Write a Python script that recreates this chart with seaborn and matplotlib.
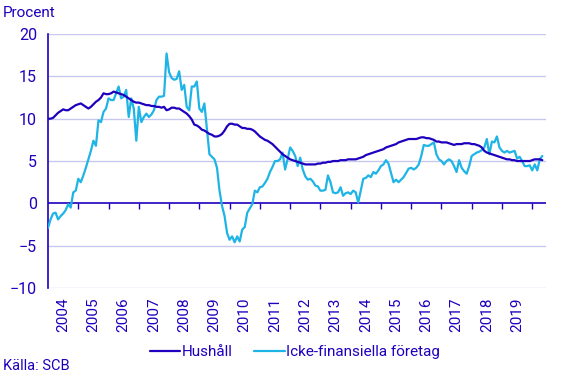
import numpy as np
import pandas as pd
import matplotlib
matplotlib.use("Agg")
import matplotlib.pyplot as plt
import seaborn as sns

# Data: monthly values, Jan 2004 - May 2020 (Procent)
hushall = [
    10.0, 10.0, 10.1, 10.4, 10.7, 10.9, 11.1, 11.0, 11.0, 11.2, 11.4, 11.6,  # 2004
    11.7, 11.8, 11.6, 11.4, 11.2, 11.4, 11.7, 12.0, 12.2, 12.5, 13.0, 12.9,  # 2005
    12.9, 13.0, 13.2, 13.1, 13.0, 12.9, 12.8, 12.6, 12.4, 12.2, 12.0, 11.9,  # 2006
    11.9, 11.8, 11.7, 11.6, 11.6, 11.5, 11.5, 11.4, 11.4, 11.3, 11.4, 11.0,  # 2007
    11.1, 11.3, 11.3, 11.2, 11.2, 11.0, 10.8, 10.6, 10.3, 9.9, 9.3, 9.2,     # 2008
    9.0, 8.7, 8.6, 8.4, 8.2, 8.1, 7.9, 7.9, 8.0, 8.2, 8.6, 9.1,              # 2009
    9.4, 9.4, 9.3, 9.3, 9.1, 8.9, 8.9, 8.8, 8.8, 8.7, 8.5, 8.2,              # 2010
    7.9, 7.7, 7.5, 7.4, 7.2, 7.0, 6.7, 6.4, 6.1, 5.8, 5.6, 5.4,              # 2011
    5.2, 5.1, 5.0, 4.9, 4.8, 4.7, 4.6, 4.6, 4.6, 4.6, 4.6, 4.7,              # 2012
    4.7, 4.8, 4.8, 4.9, 4.9, 5.0, 5.0, 5.0, 5.1, 5.1, 5.1, 5.2,              # 2013
    5.2, 5.2, 5.2, 5.3, 5.4, 5.5, 5.7, 5.8, 5.9, 6.0, 6.1, 6.2,              # 2014
    6.3, 6.4, 6.6, 6.7, 6.8, 6.9, 7.0, 7.2, 7.3, 7.4, 7.5, 7.6,              # 2015
    7.6, 7.6, 7.6, 7.7, 7.8, 7.8, 7.7, 7.7, 7.6, 7.5, 7.3, 7.3,              # 2016
    7.2, 7.2, 7.2, 7.1, 7.0, 6.9, 7.0, 7.0, 7.0, 7.1, 7.1, 7.1,              # 2017
    7.0, 7.0, 6.9, 6.8, 6.6, 6.2, 6.0, 5.9, 5.8, 5.7, 5.6, 5.5,              # 2018
    5.4, 5.3, 5.2, 5.2, 5.1, 5.1, 5.0, 5.0, 5.0, 5.0, 5.0, 5.0,              # 2019
    5.1, 5.2, 5.2, 5.2, 5.1,                                                 # 2020
]

foretag = [
    -2.9, -1.9, -1.2, -1.1, -1.9, -1.5, -1.2, -0.8, -0.1, -0.5, 1.3, 1.5,    # 2004
    2.9, 2.5, 3.3, 4.2, 5.2, 6.2, 7.4, 6.8, 9.8, 9.6, 10.8, 11.2,            # 2005
    12.4, 12.2, 12.2, 13.0, 13.8, 12.4, 12.6, 13.4, 10.2, 12.4, 11.2, 7.4,   # 2006
    11.4, 9.6, 10.2, 10.6, 10.2, 10.5, 11.0, 12.2, 12.6, 12.6, 12.7, 17.7,   # 2007
    15.5, 14.8, 14.6, 14.7, 15.6, 13.4, 14.0, 11.4, 11.0, 13.8, 13.8, 14.4,  # 2008
    11.2, 10.8, 11.8, 8.8, 5.8, 5.5, 5.2, 4.2, 1.5, -0.3, -1.5, -3.5,        # 2009
    -4.3, -3.9, -4.6, -3.9, -4.5, -3.1, -2.8, -1.1, -0.6, -0.1, 1.5, 1.3,   # 2010
    1.9, 2.0, 2.4, 2.9, 3.7, 4.3, 5.0, 5.0, 5.2, 6.0, 4.0, 5.2,              # 2011
    6.6, 6.2, 5.6, 4.4, 5.4, 4.0, 3.2, 2.8, 2.9, 2.6, 2.1, 2.0,              # 2012
    1.5, 1.5, 1.6, 3.3, 2.5, 1.3, 1.2, 1.3, 1.9, 0.9, 1.2, 1.3,              # 2013
    1.1, 1.5, 1.3, 0.1, 1.5, 2.9, 3.0, 3.3, 3.1, 3.7, 3.5, 3.9,              # 2014
    4.4, 4.6, 5.1, 4.7, 3.6, 2.5, 2.8, 2.5, 2.8, 3.1, 3.6, 4.1,              # 2015
    4.2, 4.0, 4.2, 4.6, 5.6, 6.9, 6.8, 6.8, 7.0, 7.2, 5.8, 5.2,              # 2016
    5.0, 4.6, 5.0, 5.2, 5.0, 4.4, 3.7, 5.1, 4.2, 3.8, 3.5, 4.4,              # 2017
    5.6, 5.8, 6.0, 6.1, 6.3, 6.6, 7.6, 5.8, 7.3, 7.2, 7.9, 6.6,              # 2018
    6.2, 6.0, 6.2, 6.0, 6.1, 6.2, 5.3, 5.5, 5.0, 4.4, 4.4, 4.5,              # 2019
    3.9, 4.6, 3.9, 5.2, 5.6,                                                 # 2020
]

years = list(range(2004, 2020))
y_ticks = [-10, -5, 0, 5, 10, 15, 20]

DARK = "#1E00BE"
LIGHT = "#1EB4E6"
GRID = "#C8C8EE"

n = len(hushall)
t = 2004 + np.arange(n) / 12.0
df = pd.DataFrame({
    "t": np.concatenate([t, t]),
    "value": hushall + foretag,
    "serie": ["Hushåll"] * n + ["Icke-finansiella företag"] * n,
})

sns.set_style("white")
plt.rcParams["font.family"] = ["Roboto", "DejaVu Sans"]

fig = plt.figure(figsize=(5.67, 3.78), dpi=100)
ax = fig.add_axes([0.0847, 0.238, 0.878, 0.672])

sns.lineplot(data=df, x="t", y="value", hue="serie",
             palette={"Hushåll": DARK, "Icke-finansiella företag": LIGHT},
             linewidth=1.6, ax=ax, legend=False)
# keep the dark line on top
ax.lines[0].set_zorder(4)
ax.lines[1].set_zorder(3)

ax.set_ylim(-10, 20)
ax.set_xlim(2004, 2020.45)
ax.set_xlabel("")
ax.set_ylabel("")

# horizontal grid
ax.set_yticks(y_ticks)
for v in y_ticks:
    if v != 0:
        ax.axhline(v, color=GRID, linewidth=1.0, zorder=0)
ax.axhline(0, color=DARK, linewidth=1.2, zorder=2)

for s in ["top", "right", "bottom"]:
    ax.spines[s].set_visible(False)
ax.spines["left"].set_color(DARK)
ax.spines["left"].set_linewidth(1.2)
ax.tick_params(axis="y", colors=DARK, labelcolor=DARK, labelsize=11.5,
               length=4, width=1.0, direction="out", pad=4)

# year boundary ticks on the zero line
ax.set_xticks([y + 1 for y in years])
ax.tick_params(axis="x", bottom=False, labelbottom=False)
sec0 = ax.secondary_xaxis(0.3333)
sec0.set_xticks([y + 1 for y in years])
sec0.tick_params(axis="x", colors=DARK, length=4.5, width=1.0,
                 direction="out", labelbottom=False)
sec0.spines["bottom"].set_visible(False)

# year labels under the plot
sec = ax.secondary_xaxis(0.0)
sec.set_xticks([y + 0.5 for y in years])
sec.set_xticklabels([str(y) for y in years], rotation=90)
sec.tick_params(axis="x", length=0, pad=7, labelcolor=DARK, labelsize=11)
sec.spines["bottom"].set_visible(False)

fig.text(0.005, 0.965, "Procent", color=DARK, fontsize=11, va="center", ha="left")
fig.text(0.005, 0.032, "Källa: SCB", color=DARK, fontsize=10.5, va="center", ha="left")

handles = [plt.Line2D([], [], color=DARK, linewidth=1.6),
           plt.Line2D([], [], color=LIGHT, linewidth=1.6)]
fig.legend(handles, ["Hushåll", "Icke-finansiella företag"], loc="center",
           bbox_to_anchor=(0.52, 0.068), ncol=2, frameon=False,
           fontsize=11, labelcolor=DARK, handlelength=2.0,
           handletextpad=0.1, columnspacing=1.4)

fig.savefig("out.png", dpi=100)
